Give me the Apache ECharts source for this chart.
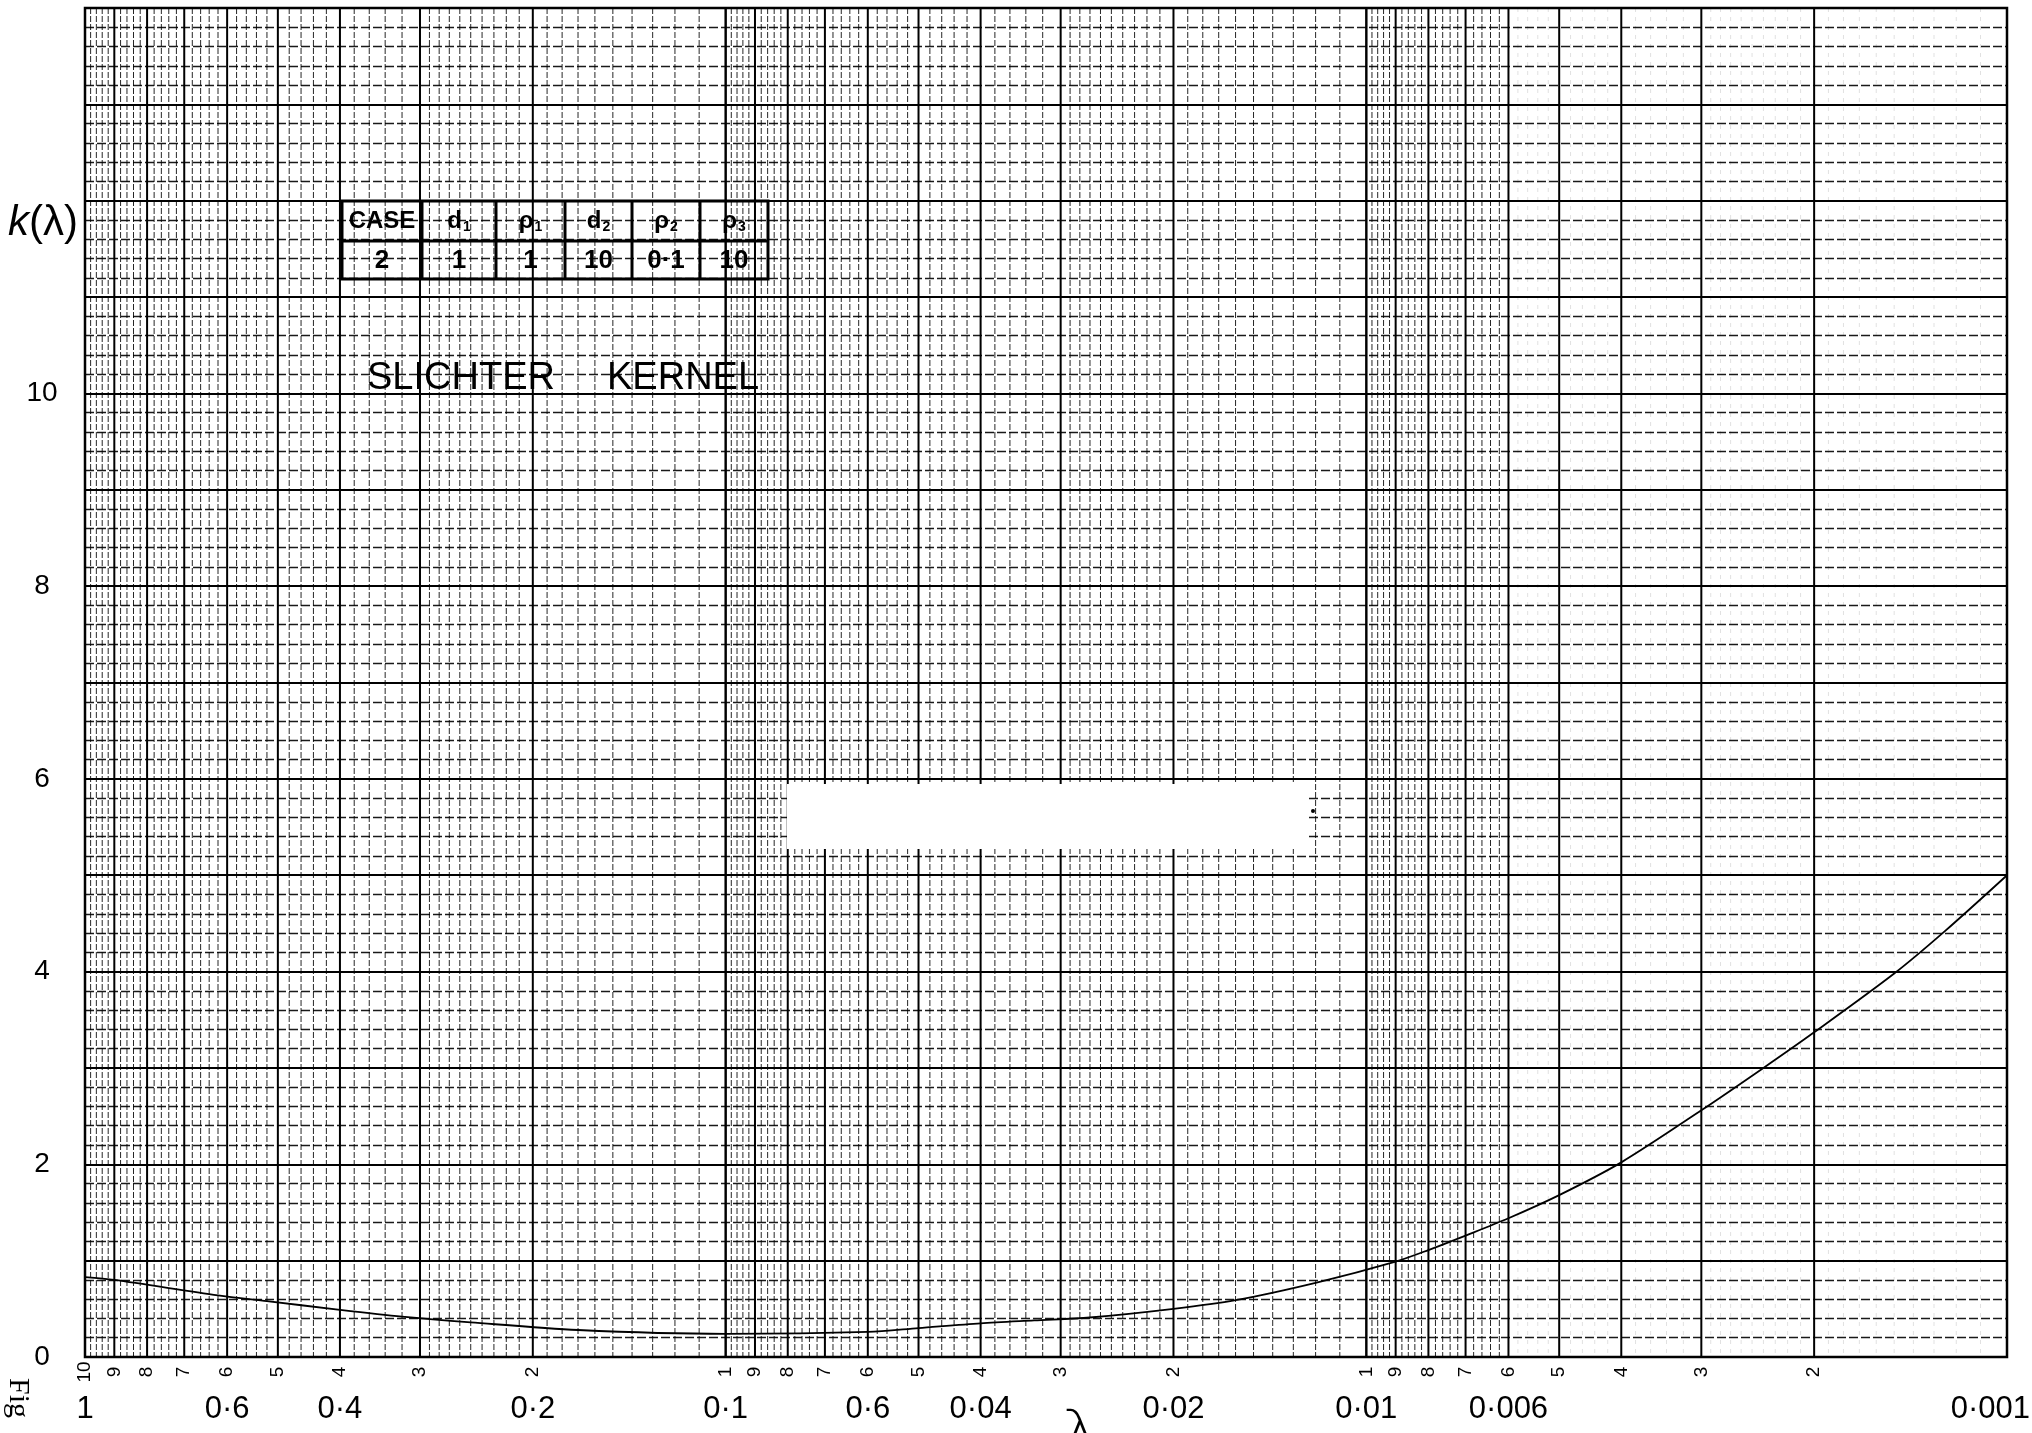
<!DOCTYPE html>
<html>
<head>
<meta charset="utf-8">
<script src="https://cdn.jsdelivr.net/npm/echarts@6/dist/echarts.min.js"></script>
<style>
  html, body { margin: 0; padding: 0; background: #fff; }
  #chart { width: 2032px; height: 1433px; }
</style>
</head>
<body>
<div id="chart"></div>
<script>
// Slichter kernel k(λ), case 2
const LAMBDA = [1, 0.9, 0.62, 0.52, 0.4, 0.32, 0.25, 0.17, 0.1, 0.06, 0.05, 0.04, 0.033, 0.027,
                0.02, 0.016, 0.012, 0.009, 0.008, 0.007, 0.006, 0.005, 0.004, 0.003, 0.0024,
                0.002, 0.0015, 0.00125, 0.001];
const K = [0.83, 0.80, 0.64, 0.58, 0.49, 0.42, 0.36, 0.28, 0.24, 0.26, 0.30, 0.35, 0.38, 0.41,
           0.50, 0.59, 0.77, 0.99, 1.11, 1.26, 1.44, 1.68, 2.02, 2.56, 3.00,
           3.37, 3.98, 4.42, 5.00];

// λ labels written under the axis (the 0.06 position carries "0·6" as printed)
const X_LABEL_VALUES = [1, 0.6, 0.4, 0.2, 0.1, 0.06, 0.04, 0.02, 0.01, 0.006, 0.001];
const X_LABELS = ['1', '0·6', '0·4', '0·2', '0·1', '0·6', '0·04', '0·02', '0·01', '0·006', '0·001'];

// Cycle numbers printed on the log paper
const CYCLE_VALUES = [1, 0.9, 0.8, 0.7, 0.6, 0.5, 0.4, 0.3, 0.2,
                      0.1, 0.09, 0.08, 0.07, 0.06, 0.05, 0.04, 0.03, 0.02,
                      0.01, 0.009, 0.008, 0.007, 0.006, 0.005, 0.004, 0.003, 0.002];
const CYCLE_LABELS = ['10', '9', '8', '7', '6', '5', '4', '3', '2',
                      '1', '9', '8', '7', '6', '5', '4', '3', '2',
                      '1', '9', '8', '7', '6', '5', '4', '3', '2'];

// k(λ) values that carry a tick label
const Y_TICK_LABELS = [0, 2, 4, 6, 8, 10];

// Parameter table
const TABLE_HEAD = ['CASE', 'd,1', 'ρ,1', 'd,2', 'ρ,2', 'ρ,3'];
const TABLE_ROW = ['2', '1', '1', '10', '0·1', '10'];

const TITLE_WORDS = ['SLICHTER', 'KERNEL'];

// ---- log-paper vertical rulings: every cycle, fine steps of 0.1 up to 3, then 0.2 ----
const CYCLE_TOPS = [1, 0.1, 0.01];
function paperRulings() {
  const out = [];
  CYCLE_TOPS.forEach((top, c) => {
    const base = top / 10;
    let m = 1;
    while (m <= 10.0001) {
      const major = Math.abs(m - Math.round(m)) < 1e-6;
      // the last cycle's fine rulings are barely printed past mantissa 6
      const kind = major ? 2 : (c === 2 && m < 6 ? 0 : 1);
      out.push([base * m, kind]);
      m = +(m + (m < 2.95 ? 0.1 : 0.2)).toFixed(1);
    }
  });
  return out;
}

const chart = echarts.init(document.getElementById('chart'), null, { renderer: 'canvas' });

const FONT = 'Liberation Sans';

const RULING_STYLE = [
  { stroke: 'rgba(0,0,0,0.12)', lineWidth: 1, lineDash: [4, 5] },
  { stroke: 'rgba(0,0,0,0.85)', lineWidth: 1, lineDash: [6, 2] },
  { stroke: '#000', lineWidth: 2 }
];

// table geometry
const TBL_COLS = [342, 422, 496, 565, 632, 700, 768];
const TBL_ROWS = [201, 241, 279];

function tableGraphics() {
  const els = [];
  els.push({
    type: 'rect', z: 110,
    shape: { x: TBL_COLS[0], y: TBL_ROWS[0], width: TBL_COLS[6] - TBL_COLS[0], height: TBL_ROWS[2] - TBL_ROWS[0] },
    style: { fill: 'transparent', stroke: '#000', lineWidth: 3 }
  });
  els.push({
    type: 'line', z: 110,
    shape: { x1: TBL_COLS[0], y1: TBL_ROWS[1], x2: TBL_COLS[6], y2: TBL_ROWS[1] },
    style: { stroke: '#000', lineWidth: 3 }
  });
  for (let i = 1; i < TBL_COLS.length - 1; i++) {
    els.push({
      type: 'line', z: 110,
      shape: { x1: TBL_COLS[i], y1: TBL_ROWS[0], x2: TBL_COLS[i], y2: TBL_ROWS[2] },
      style: { stroke: '#000', lineWidth: 3 }
    });
  }
  TABLE_HEAD.forEach((h, i) => {
    const parts = h.split(',');
    const text = parts.length > 1 ? '{m|' + parts[0] + '}{s|' + parts[1] + '}' : '{m|' + parts[0] + '}';
    els.push({
      type: 'text', z: 111,
      x: (TBL_COLS[i] + TBL_COLS[i + 1]) / 2, y: (TBL_ROWS[0] + TBL_ROWS[1]) / 2,
      style: {
        text: text, align: 'center', verticalAlign: 'middle',
        rich: {
          m: { fontFamily: FONT, fontWeight: 'bold', fontSize: 24, fill: '#000' },
          s: { fontFamily: FONT, fontWeight: 'bold', fontSize: 14, fill: '#000', padding: [12, 0, 0, 1] }
        }
      }
    });
  });
  TABLE_ROW.forEach((v, i) => {
    els.push({
      type: 'text', z: 111,
      x: (TBL_COLS[i] + TBL_COLS[i + 1]) / 2, y: (TBL_ROWS[1] + TBL_ROWS[2]) / 2 + 1,
      style: {
        text: v, align: 'center', verticalAlign: 'middle',
        font: 'bold 26px "' + FONT + '"', fill: '#000'
      }
    });
  });
  return els;
}

const option = {
  backgroundColor: '#fff',
  animation: false,
  grid: {
    left: 85, top: 8, right: 25, bottom: 76,
    show: true, borderColor: '#000', borderWidth: 2.5, backgroundColor: 'transparent'
  },
  xAxis: {
    type: 'log', logBase: 10, min: 0.001, max: 1, inverse: true,
    axisLine: { show: false }, axisTick: { show: false },
    axisLabel: { show: false }, splitLine: { show: false }
  },
  yAxis: {
    type: 'value', min: 0, max: 14, interval: 1,
    axisLine: { show: false }, axisTick: { show: false },
    axisLabel: {
      formatter: v => (Y_TICK_LABELS.indexOf(v) >= 0 ? String(v) : ''),
      fontFamily: FONT, fontSize: 28, color: '#000', align: 'center', margin: 43
    },
    splitLine: { show: true, lineStyle: { color: '#000', width: 2.2 } },
    minorTick: { show: false, splitNumber: 5 },
    minorSplitLine: { show: true, lineStyle: { color: 'rgba(0,0,0,0.9)', width: 1.3, type: [9, 3] } }
  },
  series: [
    {
      // vertical rulings of the 3-cycle log paper
      type: 'custom', name: 'rulings', z: 1, silent: true, clip: false,
      data: paperRulings(),
      renderItem: function (params, api) {
        const cs = params.coordSys;
        const x = api.coord([api.value(0), 0])[0];
        const kind = api.value(1);
        return {
          type: 'line',
          shape: { x1: x, y1: cs.y, x2: x, y2: cs.y + cs.height },
          style: RULING_STYLE[kind]
        };
      }
    },
    {
      // printed cycle numbers just below the frame
      type: 'custom', name: 'cycles', z: 3, silent: true, clip: false,
      data: CYCLE_VALUES.map(v => [v, 0]),
      renderItem: function (params, api) {
        const cs = params.coordSys;
        const x = api.coord([api.value(0), 0])[0];
        return {
          type: 'text', x: x, y: cs.y + cs.height + 15, rotation: Math.PI / 2,
          style: {
            text: CYCLE_LABELS[params.dataIndex], align: 'center', verticalAlign: 'middle',
            fontFamily: FONT, fontSize: 19, fill: '#000'
          }
        };
      }
    },
    {
      // λ value labels
      type: 'custom', name: 'lambdaLabels', z: 3, silent: true, clip: false,
      data: X_LABEL_VALUES.map(v => [v, 0]),
      renderItem: function (params, api) {
        const cs = params.coordSys;
        const x = api.coord([api.value(0), 0])[0];
        const last = params.dataIndex === X_LABEL_VALUES.length - 1;
        return {
          type: 'text', x: last ? x + 23 : x, y: cs.y + cs.height + 52,
          style: {
            text: X_LABELS[params.dataIndex], align: last ? 'right' : 'center', verticalAlign: 'middle',
            fontFamily: FONT, fontSize: 31, fill: '#000'
          }
        };
      }
    },
    {
      type: 'line', name: 'k(λ)', z: 5,
      data: LAMBDA.map((l, i) => [l, K[i]]),
      smooth: 0.3, symbol: 'none',
      lineStyle: { color: '#000', width: 1.8 }
    }
  ],
  graphic: [
    // erased patch on the sheet
    { type: 'rect', z: 100, shape: { x: 787, y: 784, width: 522, height: 65 }, style: { fill: '#fff' } },
    { type: 'circle', z: 101, shape: { cx: 1313, cy: 811, r: 2 }, style: { fill: '#000' } },
    ...tableGraphics(),
    {
      type: 'text', z: 111, x: 367, y: 379,
      style: { text: TITLE_WORDS[0], font: '38px "' + FONT + '"', fill: '#000', align: 'left', verticalAlign: 'middle' }
    },
    {
      type: 'text', z: 111, x: 607, y: 379,
      style: { text: TITLE_WORDS[1], font: '38px "' + FONT + '"', fill: '#000', align: 'left', verticalAlign: 'middle' }
    },
    {
      type: 'text', z: 111, x: 8, y: 223,
      style: {
        text: '{i|k}{n|(λ)}', align: 'left', verticalAlign: 'middle',
        rich: {
          i: { fontFamily: FONT, fontStyle: 'italic', fontSize: 42, fill: '#000' },
          n: { fontFamily: FONT, fontSize: 42, fill: '#000' }
        }
      }
    },
    {
      type: 'text', z: 111, x: 18, y: 1378, rotation: -Math.PI / 2,
      style: { text: 'Fig', font: '30px "Liberation Serif"', fill: '#000', align: 'left', verticalAlign: 'middle' }
    },
    {
      type: 'text', z: 111, x: 1080, y: 1408,
      style: { text: 'λ', font: '300 62px "DejaVu Sans"', fill: '#000', align: 'center', verticalAlign: 'top' }
    }
  ]
};

chart.setOption(option);
</script>
</body>
</html>
